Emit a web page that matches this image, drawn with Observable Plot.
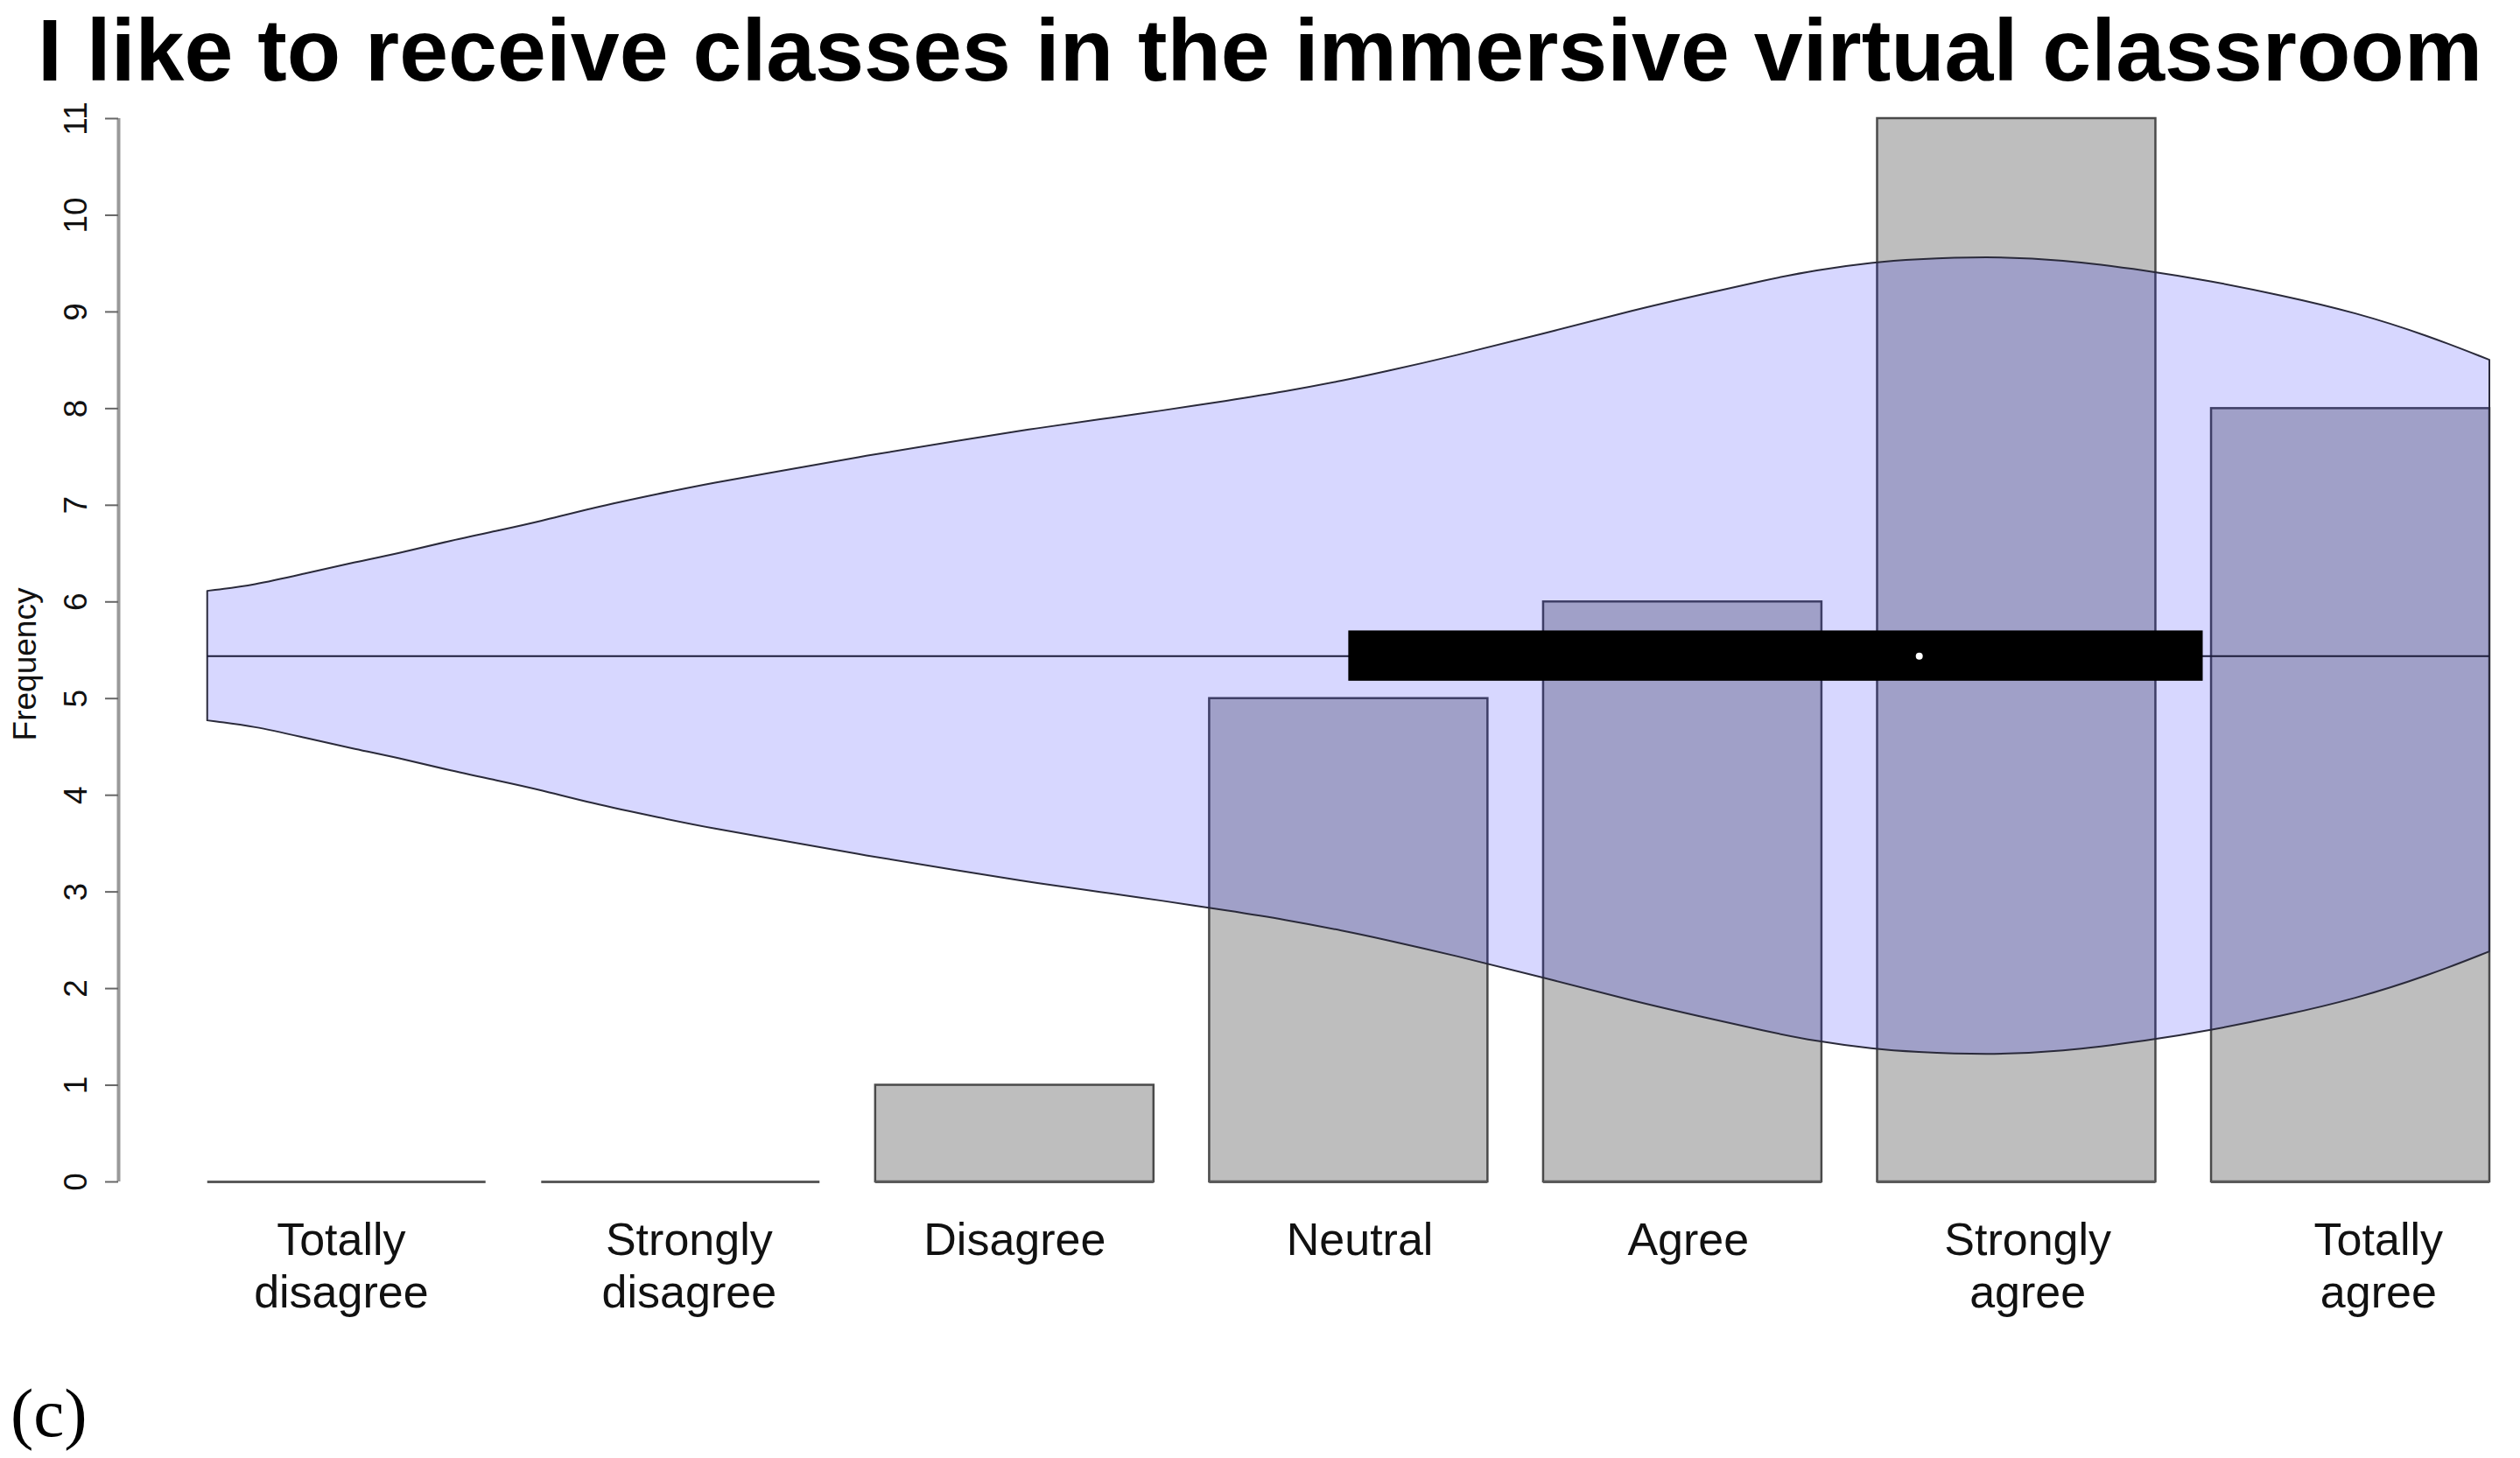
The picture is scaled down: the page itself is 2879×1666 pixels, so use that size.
<!DOCTYPE html>
<html>
<head>
<meta charset="utf-8">
<script src="https://cdn.jsdelivr.net/npm/d3@7"></script>
<script src="https://cdn.jsdelivr.net/npm/@observablehq/plot@0.6"></script>
<style>
  html, body { margin: 0; padding: 0; background: #ffffff; }
  body { width: 2879px; height: 1666px; overflow: hidden; font-family: "Liberation Sans", Arial, sans-serif; }
  #title { height: 100px; line-height: 115px; font-size: 100.5px; font-weight: bold; text-align: center; white-space: nowrap; color: #000; overflow: visible; }
  #chart svg { display: block; overflow: visible; }
  #caption { font-family: "Liberation Serif", "DejaVu Serif", serif; font-size: 79px; line-height: 90px; padding-left: 12px; color: #000; }
</style>
</head>
<body>
<div id="title">I like to receive classes in the immersive virtual classroom</div>
<div id="chart"></div>
<div id="caption">(c)</div>
<script>
// ---- data ----
const categories = ["Totally\ndisagree", "Strongly\ndisagree", "Disagree", "Neutral", "Agree", "Strongly\nagree", "Totally\nagree"];
const counts = [0, 0, 1, 5, 6, 11, 8];
// where each category label sits along the bar axis (bar-axis units)
const labelPos = [0.68, 1.93, 3.10, 4.34, 5.52, 6.74, 8.00];
const yTicks = [0, 1, 2, 3, 4, 5, 6, 7, 8, 9, 10, 11];
const yLabel = "Frequency";

// horizontal violin (in bar-axis units): position along x and half-width in frequency units
const violinPos = [0.2, 0.37, 0.55, 0.72, 0.89, 1.06, 1.24, 1.40, 1.57, 1.83, 2.02, 2.24, 2.57, 2.89, 3.15, 3.42, 3.62, 3.87, 4.07, 4.29, 4.42, 4.68, 5.00, 5.33, 5.59, 5.79, 5.98, 6.19, 6.33, 6.59, 6.86, 7.18, 7.39, 7.65, 7.92, 8.18, 8.40];
const violinHalfWidth = [0.67, 0.73, 0.85, 0.96, 1.06, 1.18, 1.29, 1.39, 1.52, 1.68, 1.79, 1.90, 2.07, 2.22, 2.34, 2.45, 2.53, 2.64, 2.73, 2.85, 2.93, 3.10, 3.33, 3.58, 3.75, 3.88, 3.99, 4.07, 4.10, 4.13, 4.10, 3.98, 3.88, 3.73, 3.55, 3.31, 3.06];
const violinCenter = 5.44;
const boxQ1 = 4.30;
const boxQ3 = 7.37;
const boxMedian = 6.35;

// x extent of the plotting region (bar-axis units); left end is where the y axis sits
const xDomain = [-0.12, 8.4];

// ---- build tables (R barplot layout: width 1, space 0.2) ----
const bars = categories.map((c, i) => ({
  label: c,
  count: counts[i],
  x1: 0.2 + 1.2 * i,
  x2: 1.2 + 1.2 * i,
  xl: labelPos[i]
}));
const violin = violinPos.map((u, i) => ({u, lo: violinCenter - violinHalfWidth[i], hi: violinCenter + violinHalfWidth[i]}));
const box = [{q1: boxQ1, q3: boxQ3, med: boxMedian, c: violinCenter}];

const chart = Plot.plot({
  width: 2879,
  height: 1470,
  marginTop: 35,
  marginBottom: 220,
  marginLeft: 135,
  marginRight: 35,
  style: {fontFamily: "'Liberation Sans', Arial, sans-serif", background: "#ffffff", color: "#111", overflow: "visible"},
  x: {domain: xDomain, axis: null},
  y: {domain: [0, 11], axis: null},
  marks: [
    Plot.rect(bars, {x1: "x1", x2: "x2", y1: 0, y2: "count", fill: "#bebebe", stroke: "#4a4a4a", strokeWidth: 2.5}),
    Plot.ruleY(bars, {x1: "x1", x2: "x2", y: 0, stroke: "#5a5a5a", strokeWidth: 3}),
    Plot.areaY(violin, {x: "u", y1: "lo", y2: "hi", fill: "#0000ff", fillOpacity: 0.155, stroke: "#2a2a3a", strokeWidth: 2, curve: "basis"}),
    Plot.ruleY([violinCenter], {x1: violinPos[0], x2: violinPos[violinPos.length - 1], stroke: "#1c1c3a", strokeWidth: 2}),
    Plot.rect(box, {x1: "q1", x2: "q3", y1: d => d.c - 0.26, y2: d => d.c + 0.26, fill: "#000"}),
    Plot.dot(box, {x: "med", y: "c", r: 4, fill: "#fff", stroke: null}),
    Plot.text(bars, {x: "xl", y: 0, text: "label", dy: 41, lineAnchor: "top", fontSize: 52, lineHeight: 1.15, fill: "#111"}),
    Plot.ruleX([xDomain[0]], {y1: 0, y2: 11, stroke: "#999", strokeWidth: 4}),
    Plot.axisY({ticks: yTicks, tickSize: 15, tickPadding: 22, tickRotate: -90, fontSize: 37, stroke: "#666", strokeWidth: 2, label: null}),
    Plot.text([yLabel], {frameAnchor: "left", textAnchor: "middle", lineAnchor: "middle", rotate: -90, dx: -106, dy: 16, fontSize: 37, fill: "#111"})
  ]
});
document.getElementById("chart").appendChild(chart);
</script>
</body>
</html>
